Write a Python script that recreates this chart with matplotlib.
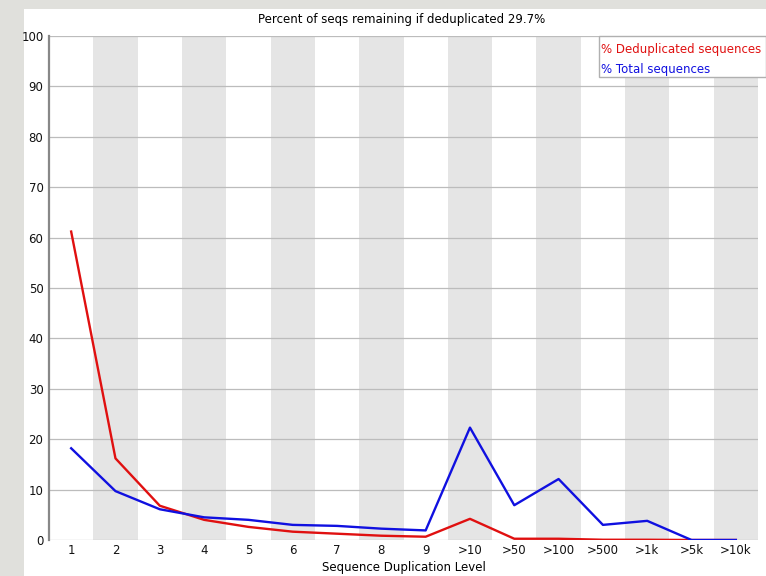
import matplotlib
matplotlib.use("Agg")
import matplotlib.pyplot as plt
from matplotlib.patches import Rectangle

levels = ["1", "2", "3", "4", "5", "6", "7", "8", "9",
          ">10", ">50", ">100", ">500", ">1k", ">5k", ">10k"]
dedup_pct = [61.2, 16.2, 6.8, 4.0, 2.6, 1.65, 1.25, 0.85, 0.65,
             4.2, 0.25, 0.25, 0.05, 0.05, 0.0, 0.0]
total_pct = [18.2, 9.7, 6.1, 4.5, 4.0, 3.0, 2.8, 2.25, 1.9,
             22.3, 6.9, 12.1, 3.0, 3.8, 0.0, 0.0]
title = "Percent of seqs remaining if deduplicated 29.7%"

W, H = 766, 576
fig = plt.figure(figsize=(W / 100, H / 100), dpi=100)
fig.patch.set_facecolor("#e0e0dc")
# white panel behind the plot
fig.patches.append(Rectangle((24 / W, 0), 1, (H - 9) / H, transform=fig.transFigure,
                             facecolor="white", edgecolor="none", zorder=-10))

ax = fig.add_axes([49 / W, 1 - 540 / H, (758 - 49) / W, (540 - 36) / H])
ax.set_facecolor("white")

x = list(range(len(levels)))
# alternating grey bands
for i in x:
    if i % 2 == 1:
        ax.axvspan(i - 0.5, i + 0.5, color="#e5e5e5", lw=0, zorder=0)

for v in range(0, 101, 10):
    ax.axhline(v, color="#bcbcbc", lw=0.9, zorder=1)

ax.plot(x, dedup_pct, color="#e01010", lw=1.7, zorder=3, label="% Deduplicated sequences")
ax.plot(x, total_pct, color="#1010e0", lw=1.7, zorder=3, label="% Total sequences")

ax.set_xlim(-0.5, len(levels) - 0.5)
ax.set_ylim(0, 100)
ax.set_xticks(x)
ax.set_xticklabels(levels)
ax.set_yticks(range(0, 101, 10))
ax.tick_params(length=0, labelsize=8.5, colors="#111111")
ax.tick_params(axis="x", pad=3)
ax.tick_params(axis="y", pad=4)
for s in ["top", "right", "bottom"]:
    ax.spines[s].set_visible(False)
ax.spines["left"].set_color("#888888")
ax.spines["left"].set_linewidth(1.6)

ax.set_xlabel("Sequence Duplication Level", fontsize=8.5, labelpad=3)
fig.text((24 + 766) / 2 / W + 0.008, 1 - 20 / H, title, ha="center", va="center", fontsize=8.5)

# legend box
fig.patches.append(Rectangle((599 / W, 1 - 77 / H), (766 - 599) / W, 41 / H,
                             transform=fig.transFigure, facecolor="white",
                             edgecolor="#b0b0b0", lw=1, zorder=5))
fig.text(601 / W, 1 - 50 / H, "% Deduplicated sequences", color="#e01010",
         fontsize=8.5, va="center", zorder=6)
fig.text(601 / W, 1 - 69 / H, "% Total sequences", color="#1010e0",
         fontsize=8.5, va="center", zorder=6)

fig.savefig("out.png", dpi=100)
